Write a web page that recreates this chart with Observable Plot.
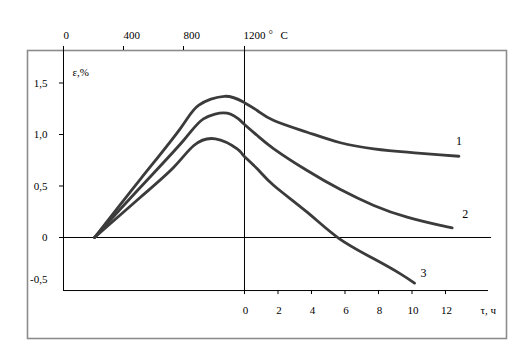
<!DOCTYPE html>
<html><head><meta charset="utf-8">
<script src="https://cdn.jsdelivr.net/npm/d3@7"></script>
<script src="https://cdn.jsdelivr.net/npm/@observablehq/plot@0.6"></script>
<style>body{margin:0;background:#fff}</style>
</head><body><div id="chart"></div>
<script>
// ---- data ----
const tempTicks = [0, 400, 800, 1200];          // °C (top axis)
const timeTicks = [0, 2, 4, 6, 8, 10, 12];      // hours (bottom axis)
const strainTicks = [0.5, 1.0, 1.5];            // ε, % (ticked)
const curveNames = ["1", "2", "3"];

// heating branch: temperature (°C) -> strain (%)
const heatTemp1 = [207, 513, 780, 900, 1073, 1200];
const heatStrain1 = [0, 0.567, 1.060, 1.282, 1.371, 1.314];
const heatTemp2 = [207, 513, 800, 933, 1091, 1200];
const heatStrain2 = [0, 0.488, 0.942, 1.152, 1.207, 1.107];
const heatTemp3 = [207, 513, 735, 869, 1013, 1158, 1200];
const heatStrain3 = [0, 0.391, 0.682, 0.893, 0.958, 0.861, 0.796];

// holding branch: time (h) -> strain (%)
const holdTime1 = [0.76, 1.75, 3.74, 5.73, 7.72, 9.71, 11.7, 12.8];
const holdStrain1 = [1.233, 1.136, 1.022, 0.92, 0.861, 0.828, 0.803, 0.789];
const holdTime2 = [0.76, 1.75, 3.74, 5.73, 7.72, 9.71, 11.7, 12.4];
const holdStrain2 = [0.99, 0.861, 0.650, 0.465, 0.311, 0.197, 0.117, 0.094];
const holdTime3 = [0.76, 1.75, 3.74, 5.63, 7.72, 9.31, 10.15];
const holdStrain3 = [0.667, 0.505, 0.246, -0.008, -0.207, -0.353, -0.443];

// ---- layout helpers ----
const PX_H = 16.75;   // px per hour
const PX_V = 103;     // px per 1 %
const tempToH = T => (0.15 * T - 181) / PX_H; // temperature panel mapped into hour units
const TICK_H = 4 / PX_H, TICK_V = 4 / PX_V;
const AXIS_BOTTOM = -0.515, AXIS_TOP = 1.855, FRAME_TOP = 1.8155;
const X_END = 14.567, ZERO_END = 14.75;
const TOP_LABEL_Y = 1.961, BOTTOM_LABEL_Y = -0.709;

const heat = [[heatTemp1, heatStrain1], [heatTemp2, heatStrain2], [heatTemp3, heatStrain3]];
const hold = [[holdTime1, holdStrain1], [holdTime2, holdStrain2], [holdTime3, holdStrain3]];
const rows = [];
curveNames.forEach((name, i) => {
  heat[i][0].forEach((T, j) => rows.push({curve: name, x: tempToH(T), y: heat[i][1][j]}));
  hold[i][0].forEach((t, j) => rows.push({curve: name, x: t, y: hold[i][1][j]}));
});
const ends = curveNames.map((name, i) => ({curve: name, x: hold[i][0].at(-1), y: hold[i][1].at(-1)}));
const fmt = d => d === 0 ? "0" : d.toFixed(1).replace(".", ",");

const font = "'Liberation Serif', 'Times New Roman', serif";
const plot = Plot.plot({
  width: 523, height: 359,
  marginLeft: 27, marginRight: 17, marginTop: 50, marginBottom: 21,
  x: {domain: [-12.955, 15.642], axis: null},
  y: {domain: [-0.9806, 1.8155], axis: null},
  style: {background: "white", fontFamily: font, fontSize: "11px", overflow: "visible", color: "black"},
  marks: [
    Plot.frame({stroke: "#8c8c8c", strokeWidth: 1.6}),
    // axes lines
    Plot.ruleX([tempToH(0)], {x: d => d, y1: AXIS_BOTTOM, y2: AXIS_TOP, stroke: "black"}),
    Plot.ruleX([0], {x: d => d, y1: AXIS_BOTTOM - TICK_V, y2: AXIS_TOP, stroke: "black"}),
    Plot.ruleY([AXIS_BOTTOM], {y: d => d, x1: tempToH(0), x2: X_END, stroke: "black"}),
    Plot.ruleY([0], {y: d => d, x1: tempToH(0) - TICK_H, x2: ZERO_END, stroke: "black"}),
    // ticks
    Plot.ruleY(strainTicks, {y: d => d, x1: tempToH(0) - TICK_H, x2: tempToH(0), stroke: "black"}),
    Plot.ruleX(tempTicks.filter(t => t > 0 && t < 1200), {x: tempToH, y1: FRAME_TOP, y2: FRAME_TOP + TICK_V, stroke: "black"}),
    Plot.ruleX(timeTicks.filter(t => t > 0), {x: d => d, y1: AXIS_BOTTOM, y2: AXIS_BOTTOM - TICK_V, stroke: "black"}),
    // tick labels
    Plot.text(tempTicks, {x: tempToH, y: TOP_LABEL_Y, text: d => String(d), textAnchor: "start", fontSize: 11}),
    Plot.text(["°"], {x: tempToH(1200), y: TOP_LABEL_Y, text: d => d, textAnchor: "start", dx: 25, dy: -1, fontSize: 11}),
    Plot.text(["C"], {x: tempToH(1200), y: TOP_LABEL_Y, text: d => d, textAnchor: "start", dx: 37, fontSize: 11}),
    Plot.text(timeTicks, {x: d => d, y: BOTTOM_LABEL_Y, text: d => String(d), dx: 1, fontSize: 11}),
    Plot.text(["τ, ч"], {x: timeTicks.at(-1), y: BOTTOM_LABEL_Y, text: d => d, textAnchor: "start", dx: 35, fontSize: 11}),
    Plot.text(strainTicks.concat([0]), {x: tempToH(0), y: d => d, text: fmt, textAnchor: "end", dx: -16, fontSize: 11}),
    Plot.text([-0.5], {x: tempToH(0), y: d => d, text: fmt, textAnchor: "end", dx: -16, dy: -10, fontSize: 11}),
    Plot.text(["ε,%"], {x: tempToH(0), y: strainTicks.at(-1), text: d => d, textAnchor: "start", dx: 9, dy: -11, fontSize: 11}),
    // curves
    Plot.line(rows, {x: "x", y: "y", z: "curve", curve: "natural", stroke: "#3b3b3b", strokeWidth: 2.8}),
    Plot.text([ends[0]], {x: "x", y: "y", text: "curve", dy: -15, fontSize: 12}),
    Plot.text([ends[1]], {x: "x", y: "y", text: "curve", dx: 13, dy: -14, fontSize: 12}),
    Plot.text([ends[2]], {x: "x", y: "y", text: "curve", dx: 9, dy: -10, fontSize: 12})
  ]
});
document.getElementById("chart").appendChild(plot);
</script>
</body></html>
